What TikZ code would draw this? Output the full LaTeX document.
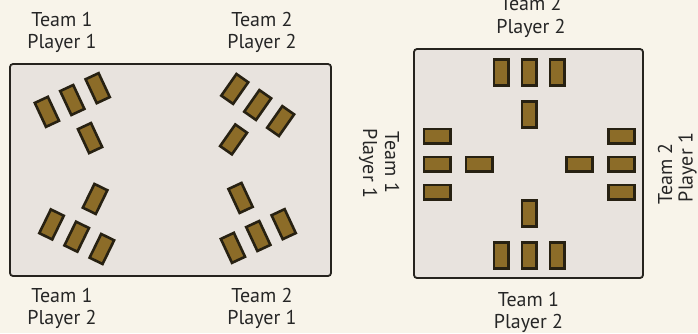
\documentclass[tikz,border=0pt]{standalone}
\usepackage{fontspec}
\setmainfont{PT Sans}
\definecolor{pagebg}{HTML}{F8F4EA}
\definecolor{tablefill}{HTML}{E8E3DE}
\definecolor{tableline}{HTML}{26231E}
\definecolor{cardfill}{HTML}{8C6C28}
\definecolor{cardline}{HTML}{272112}
\newcommand\cardgroup[4]{%
  \begin{scope}[shift={(#2,#3)}, rotate=#4, transform shape]
    \node[card] (#1a) at (-28,0) {};
    \node[card] (#1b) at (0,0) {};
    \node[card] (#1c) at (28,0) {};
    \node[card] (#1d) at (0,42) {};
  \end{scope}}
\begin{document}
\begin{tikzpicture}[x=1pt,y=-1pt,
  card/.style={draw=cardline, fill=cardfill, line width=2.6pt, minimum width=14.4pt, minimum height=26.4pt, inner sep=0pt},
  tablebox/.style={draw=tableline, fill=tablefill, line width=1.8pt, rounded corners=3pt, inner sep=0pt},
  lbl/.style={font=\fontsize{20}{22}\selectfont, inner sep=0pt, text=black!85}]
\path[fill=pagebg] (0,0) rectangle (698,333);
\clip (0,0) rectangle (698,333);
% tables
\node[tablebox, minimum width=321pt, minimum height=212pt] (tableA) at (170.5,170) {};
\node[tablebox, minimum width=229pt, minimum height=229pt] (tableB) at (528.5,163.5) {};
% left table cards
\cardgroup{tl}{72.3}{100}{25}
\cardgroup{tr}{257.7}{105}{-35}
\cardgroup{bl}{76.7}{236.7}{154}
\cardgroup{br}{258.3}{236}{205}
% right table cards
\cardgroup{nt}{529}{72.5}{0}
\cardgroup{sb}{529}{255.5}{180}
\cardgroup{wl}{437}{164}{90}
\cardgroup{er}{621.5}{164}{-90}
% left table labels
\node[lbl, anchor=base] (a1) at (62,26) {Team 1};
\node[lbl, anchor=base] (a2) at (62,48) {Player 1};
\node[lbl, anchor=base] (b1) at (262,26) {Team 2};
\node[lbl, anchor=base] (b2) at (262,48) {Player 2};
\node[lbl, anchor=base] (c1) at (62,302) {Team 1};
\node[lbl, anchor=base] (c2) at (62,324) {Player 2};
\node[lbl, anchor=base] (d1) at (262,302) {Team 2};
\node[lbl, anchor=base] (d2) at (262,324) {Player 1};
% right table labels
\node[lbl, anchor=base] (e1) at (531,10.5) {Team 2};
\node[lbl, anchor=base] (e2) at (531,33) {Player 2};
\node[lbl, anchor=base] (f1) at (528.5,306.5) {Team 1};
\node[lbl, anchor=base] (f2) at (528.5,328) {Player 2};
\node[lbl, anchor=base, rotate=-90] (g1) at (385,162.5) {Team 1};
\node[lbl, anchor=base, rotate=-90] (g2) at (363,163.5) {Player 1};
\node[lbl, anchor=base, rotate=90] (h1) at (672,174) {Team 2};
\node[lbl, anchor=base, rotate=90] (h2) at (692.5,167.5) {Player 1};
\end{tikzpicture}
\end{document}
